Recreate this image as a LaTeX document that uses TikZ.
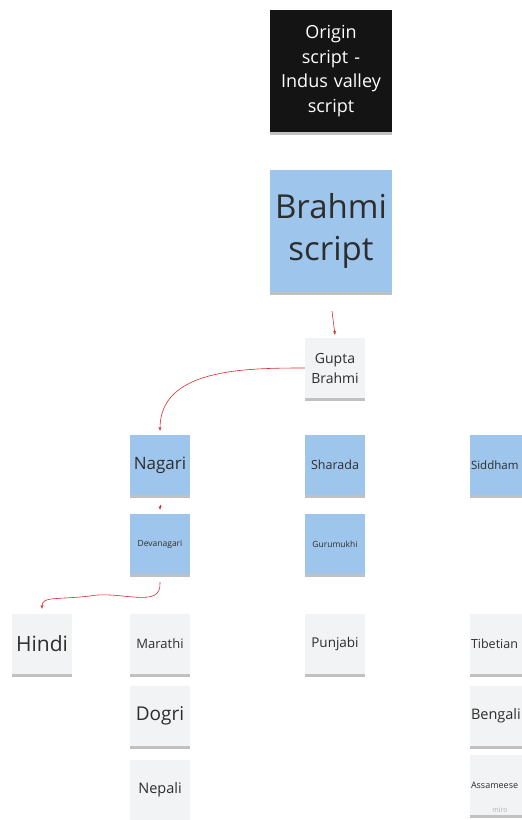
\documentclass[tikz,border=0pt]{standalone}
\usepackage{fontspec}
\setmainfont{Open Sans}
\usetikzlibrary{arrows.meta,shadows}

\definecolor{noteblue}{RGB}{158,198,236}
\definecolor{notegray}{RGB}{241,243,244}
\definecolor{notetext}{RGB}{45,45,45}
\definecolor{linkred}{RGB}{214,45,45}

\begin{document}
\begin{tikzpicture}[x=1pt, y=-1pt,
	note/.style={minimum width=60pt, minimum height=60pt, inner sep=0pt, align=center, text=notetext, fill=notegray, drop shadow={shadow xshift=0pt, shadow yshift=-2.5pt, opacity=0.35, fill=black!70}},
	bignote/.style={note, minimum width=122pt, minimum height=122pt},
	bluenote/.style={fill=noteblue},
	edgenote/.style={note, text width=58pt, align=left},
	link/.style={linkred, line width=0.6pt, -{Stealth[length=4pt,width=3pt]}}]
	\clip (0,0) rectangle (522,820);
	\useasboundingbox (0,0) rectangle (522,820);
	% top of the tree
	\node[bignote, fill=black!92, text=white, font=\fontsize{18}{24.5}\selectfont, text width=118pt] (origin) at (331,71) {Origin\\ script -\\ Indus valley\\ script};
	\node[bignote, bluenote, font=\fontsize{33}{42}\selectfont, text width=118pt] (brahmi) at (331,231) {Brahmi\\ script};
	\node[note, font=\fontsize{14}{20}\selectfont] (gupta) at (335,368) {Gupta\\ Brahmi};
	% second row
	\node[note, bluenote, font=\fontsize{17}{20}\selectfont] (nagari) at (160,465) {Nagari};
	\node[note, bluenote, font=\fontsize{12.5}{15}\selectfont] (sharada) at (335,465) {Sharada};
	\node[edgenote, bluenote, font=\fontsize{11.5}{14}\selectfont] (siddham) at (500,465) {Siddham};
	\node[note, bluenote, font=\fontsize{8.5}{10}\selectfont] (devanagari) at (160,544) {Devanagari};
	\node[note, bluenote, font=\fontsize{8.5}{10}\selectfont] (gurumukhi) at (335,544) {Gurumukhi};
	% languages
	\node[note, font=\fontsize{21}{24}\selectfont] (hindi) at (42,644) {Hindi};
	\node[note, font=\fontsize{13}{16}\selectfont] (marathi) at (160,644) {Marathi};
	\node[note, font=\fontsize{19}{22}\selectfont] (dogri) at (160,716) {Dogri};
	\node[note, font=\fontsize{14.5}{17}\selectfont] (nepali) at (160,790) {Nepali};
	\node[note, font=\fontsize{13.5}{16}\selectfont] (punjabi) at (335,644) {Punjabi};
	\node[edgenote, font=\fontsize{12.5}{15}\selectfont] (tibetian) at (500,644) {Tibetian};
	\node[edgenote, font=\fontsize{14.5}{17}\selectfont] (bengali) at (500,716) {Bengali};
	\node[edgenote, font=\fontsize{9}{11}\selectfont] (assameese) at (500,785) {Assameese};
	\node[font=\fontsize{7}{8}\selectfont, text=black!30] (miro) at (500,810) {miro};
	% connectors
	\draw[link] ([xshift=1pt, yshift=-19pt]brahmi.south) -- ([yshift=3pt]gupta.north);
	\draw[link] (gupta.west) to[out=180, in=90] ([yshift=4pt]nagari.north);
	\draw[link] ([yshift=-10pt]nagari.south) -- ([yshift=4pt]devanagari.north);
	\draw[link] ([yshift=-8pt]devanagari.south) .. controls (162,610) and (120,590) .. (90,596) .. controls (55,600) and (42,596) .. ([yshift=5pt]hindi.north);
\end{tikzpicture}
\end{document}
